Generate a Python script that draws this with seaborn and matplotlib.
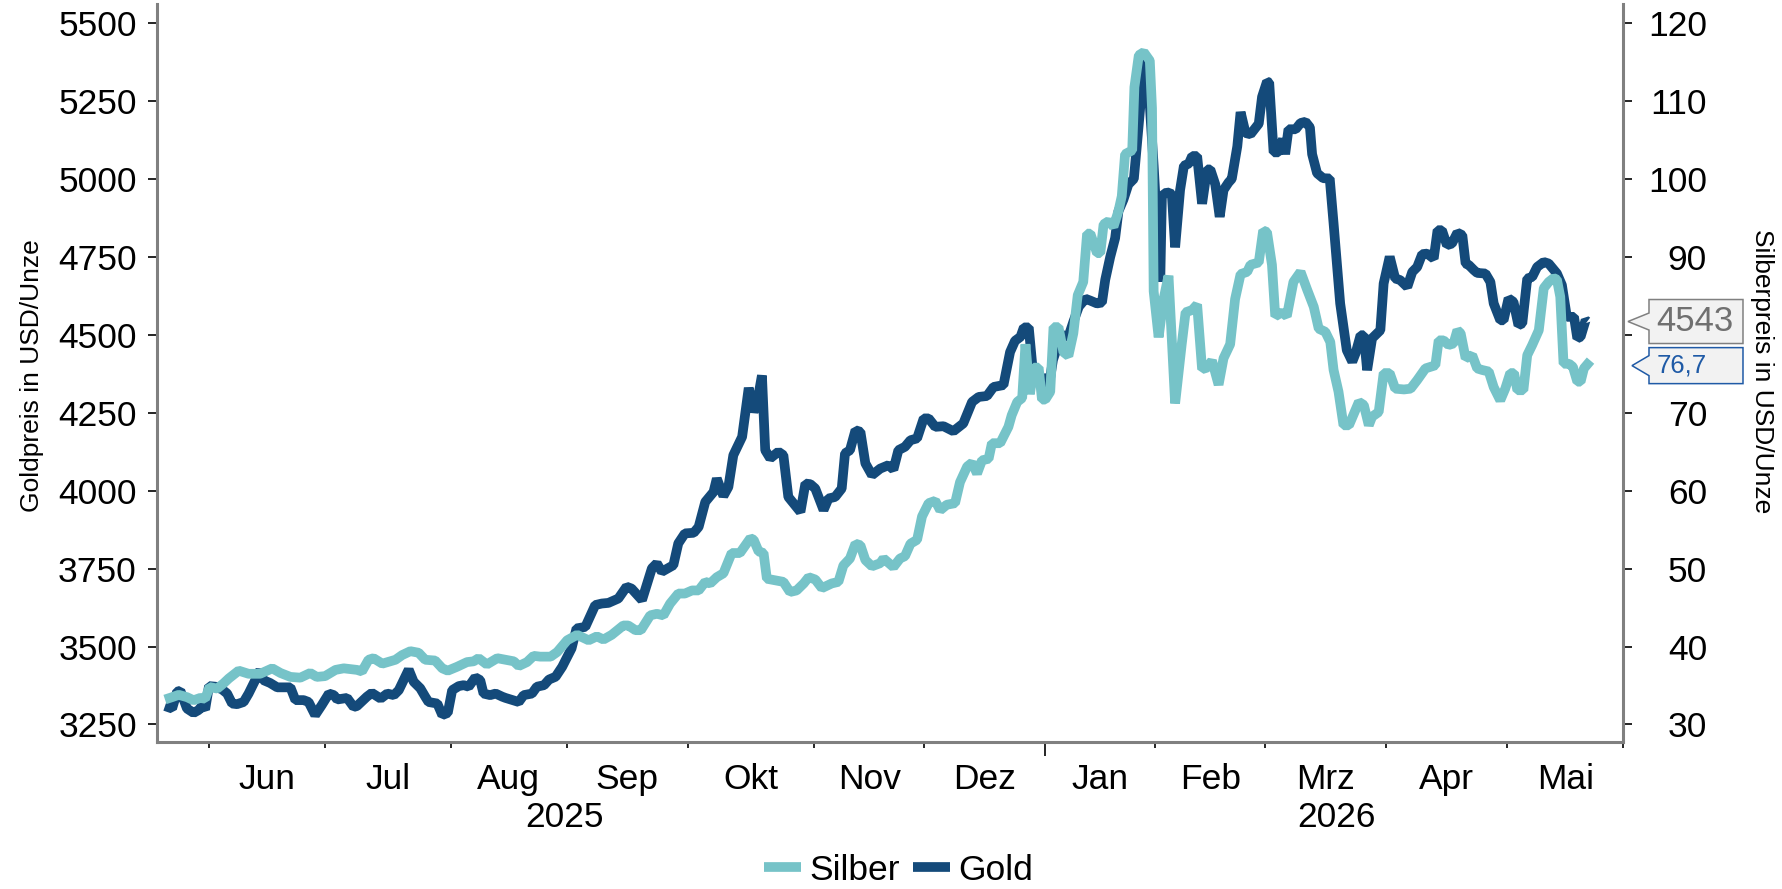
# Gold- und Silberpreis, Handelstage Mai 2025 - Mai 2026
import numpy as np
import pandas as pd
import matplotlib
matplotlib.use("Agg")
import matplotlib.pyplot as plt
import seaborn as sns
from matplotlib.path import Path
from matplotlib.transforms import blended_transform_factory, offset_copy

# ---- DATEN (x = Handelstag seit 20.05.2025) ----
gold_day = [0, 1.3, 2.2, 2.8, 4.0, 5.2, 6.1, 6.7, 7.3, 8.0, 9.2, 10.4, 11.3, 12.2, 13.1, 14.3,
            15.2, 16.7, 17.3, 17.9, 19.1, 20.4, 22.8, 23.7, 25.2, 26.1, 27.3, 28.5, 29.8, 30.7,
            31.3, 33.1, 34.3, 34.9, 36.7, 37.6, 39.2, 40.4, 41.6, 42.5, 44.3, 45.2, 46.4, 47.3,
            47.9, 49.5, 50.4, 51.4, 52.2, 53.4, 54.3, 55.2, 56.4, 57.3, 57.9, 59.1, 60.1, 61.3,
            61.9, 64.3, 65.2, 66.7, 67.6, 68.9, 69.8, 71.0, 72.2, 73.9, 74.8, 76.4, 78.2, 79.4,
            80.6, 82.4, 83.9, 84.8, 86.7, 88.5, 89.4, 90.3, 92.4, 93.3, 94.5, 96.1, 97.0, 98.2,
            99.7, 100.3, 101.5, 102.4, 103.3, 104.9, 106.1, 107.0, 107.6, 108.5, 109.1, 110.0,
            111.5, 112.4, 113.3, 115.5, 116.4, 117.3, 118.2, 119.7, 120.6, 121.8, 123.0, 123.6,
            124.5, 125.5, 126.4, 127.3, 128.5, 130.0, 131.5, 132.4, 133.3, 134.5, 135.5, 136.7,
            137.9, 138.8, 140.0, 141.5, 143.3, 145.1, 146.7, 147.9, 149.4, 150.6, 152.4, 153.6,
            154.5, 155.5, 156.1, 157.0, 157.6, 158.8, 159.6, 160.6, 161.4, 162.1, 163.0, 164.2,
            165.1, 166.1, 167.3, 168.2, 169.4, 170.3, 170.9, 171.8, 172.7, 173.3, 174.2, 175.1,
            176.1, 177.0, 177.9, 178.5, 179.7, 180.9, 181.2, 182.1, 183.0, 183.6, 184.5, 185.2,
            186.1, 186.7, 187.6, 188.5, 189.4, 190.0, 190.9, 191.7, 192.4, 193.3, 193.9, 194.9,
            195.5, 196.4, 197.3, 198.8, 199.4, 200.3, 200.7, 201.5, 202.4, 203.2, 203.6, 204.2,
            205.5, 206.4, 207.3, 208.1, 208.5, 209.4, 210.5, 211.7, 212.4, 213.6, 214.8, 215.8,
            216.4, 217.3, 217.9, 218.5, 219.4, 220.9, 221.5, 222.6, 223.6, 224.5, 225.8, 226.7,
            227.6, 228.5, 229.4, 230.6, 231.3, 232.1, 233.0, 233.9, 234.9, 235.8, 236.4, 237.0,
            237.9, 238.5, 240.0, 240.9, 241.5, 242.7, 243.3, 244.2, 245.1, 246.0, 246.7, 247.6,
            248.5, 249.4, 250.6, 251.5, 253.0, 253.9, 254.8, 256.1, 256.7, 257.3, 258.2, 258.5]
gold_usd = [3309, 3301, 3355, 3358, 3301, 3287, 3296, 3309, 3298, 3373, 3371, 3362, 3349, 3317,
            3315, 3322, 3349, 3403, 3424, 3392, 3383, 3369, 3369, 3328, 3328, 3322, 3280, 3312,
            3349, 3344, 3330, 3335, 3306, 3309, 3339, 3351, 3333, 3349, 3344, 3360, 3426, 3387,
            3366, 3339, 3322, 3317, 3280, 3287, 3360, 3373, 3376, 3371, 3401, 3392, 3349, 3344,
            3349, 3339, 3335, 3322, 3344, 3349, 3371, 3376, 3394, 3403, 3435, 3494, 3558, 3563,
            3633, 3638, 3640, 3654, 3692, 3686, 3649, 3751, 3767, 3740, 3761, 3831, 3863, 3865,
            3884, 3964, 3996, 4039, 3983, 4012, 4114, 4173, 4330, 4253, 4280, 4370, 4130, 4104,
            4125, 4114, 3980, 3932, 4023, 4021, 4007, 3938, 3975, 3980, 4007, 4120, 4130, 4194,
            4189, 4088, 4050, 4071, 4082, 4068, 4130, 4141, 4162, 4168, 4232, 4232, 4205, 4207,
            4191, 4216, 4285, 4301, 4304, 4333, 4339, 4445, 4481, 4494, 4524, 4524, 4410, 4340,
            4370, 4330, 4420, 4457, 4500, 4494, 4542, 4591, 4616, 4610, 4601, 4604, 4677, 4750,
            4811, 4897, 4934, 4983, 5001, 5178, 5362, 5374, 5043, 4671, 4946, 4958, 4952, 4781,
            4965, 5043, 5050, 5074, 5074, 4921, 5031, 5031, 4983, 4879, 4965, 4989, 5001, 5105,
            5215, 5148, 5144, 5178, 5264, 5313, 5310, 5086, 5086, 5129, 5080, 5160, 5160, 5180,
            5184, 5166, 5080, 5019, 5003, 5002, 4858, 4601, 4451, 4414, 4441, 4499, 4499, 4387,
            4489, 4515, 4665, 4751, 4681, 4676, 4654, 4702, 4718, 4759, 4761, 4745, 4836, 4836,
            4788, 4793, 4828, 4820, 4729, 4724, 4708, 4699, 4697, 4670, 4601, 4547, 4547, 4617,
            4606, 4531, 4537, 4681, 4686, 4718, 4734, 4729, 4697, 4660, 4558, 4558, 4489, 4494,
            4547, 4543]

silver_day = [0, 1.3, 2.5, 4.0, 5.2, 6.4, 7.3, 8.1, 9.5, 10.7, 11.6, 13.4, 15.2, 17.3, 19.5, 21.0,
              22.8, 24.6, 26.4, 27.6, 29.1, 31.0, 32.5, 34.9, 35.8, 37.0, 37.9, 39.5, 41.9, 43.1,
              44.6, 46.1, 47.3, 49.1, 50.4, 51.4, 53.1, 54.9, 56.1, 57.0, 58.5, 60.4, 61.9, 63.4,
              64.3, 65.8, 67.0, 68.2, 70.1, 71.3, 73.1, 74.9, 77.0, 78.5, 79.7, 81.2, 83.3, 84.2,
              85.5, 86.5, 88.2, 89.4, 90.6, 91.8, 93.3, 94.5, 95.8, 97.0, 98.2, 99.1, 100.3, 101.5,
              103.0, 104.5, 106.4, 107.0, 107.9, 108.8, 109.4, 110.9, 112.4, 113.6, 114.8, 116.1,
              117.0, 118.2, 119.4, 121.2, 122.4, 123.3, 124.5, 125.5, 126.4, 127.3, 128.5, 130.0,
              130.6, 132.4, 133.6, 134.5, 135.5, 136.7, 137.6, 138.8, 140.0, 140.9, 142.1, 143.6,
              144.5, 145.8, 146.7, 147.6, 148.5, 149.7, 150.3, 151.8, 153.3, 153.9, 154.9, 155.8,
              156.4, 157.2, 157.9, 158.8, 159.4, 160.0, 160.9, 161.5, 162.4, 163.3, 164.2, 165.1,
              165.9, 166.9, 167.6, 168.2, 169.4, 170.0, 170.6, 171.5, 172.4, 173.3, 173.9, 174.5,
              175.8, 176.2, 177.0, 177.9, 179.0, 179.4, 179.7, 180.6, 181.5, 182.4, 183.6, 184.8,
              185.5, 186.7, 187.6, 188.5, 189.4, 190.3, 191.5, 192.4, 193.6, 194.5, 195.5, 196.7,
              197.3, 198.8, 199.6, 200.3, 201.2, 201.8, 203.0, 203.9, 205.1, 206.4, 207.6, 208.8,
              209.7, 210.9, 211.8, 212.4, 213.3, 214.2, 215.2, 216.1, 217.0, 217.9, 218.8, 219.4,
              220.6, 221.5, 222.6, 223.6, 225.2, 226.4, 227.6, 229.1, 230.0, 230.9, 231.5, 232.4,
              233.3, 234.2, 234.9, 235.5, 236.4, 237.6, 238.5, 239.4, 240.6, 241.5, 242.7, 243.6,
              244.5, 245.2, 245.8, 246.9, 247.6, 248.5, 249.7, 250.6, 251.5, 252.4, 253.0, 253.6,
              254.2, 255.2, 255.9, 256.7, 257.3, 257.9, 259.1]
silver_usd = [33.2, 33.5, 33.8, 33.5, 33.1, 33.4, 33.3, 34.8, 34.6, 35.3, 35.9, 36.9, 36.5, 36.5,
              37.2, 36.6, 36.1, 36.0, 36.6, 36.1, 36.2, 37.0, 37.2, 37.0, 36.8, 38.3, 38.5, 37.8,
              38.3, 38.9, 39.4, 39.2, 38.3, 38.2, 37.2, 36.9, 37.4, 38.0, 38.1, 38.5, 37.7, 38.5,
              38.3, 38.1, 37.5, 38.0, 38.8, 38.7, 38.7, 39.3, 40.8, 41.5, 40.8, 41.3, 40.9, 41.5,
              42.7, 42.7, 42.1, 42.1, 44.0, 44.2, 44.0, 45.5, 46.8, 46.8, 47.2, 47.2, 48.3, 48.1,
              48.9, 49.4, 52.0, 52.0, 53.9, 53.7, 52.2, 52.0, 48.7, 48.5, 48.3, 47.0, 47.2, 48.1,
              48.9, 48.6, 47.5, 48.1, 48.3, 50.4, 51.3, 53.2, 53.0, 51.1, 50.3, 50.7, 51.3, 50.2,
              51.3, 51.6, 53.2, 53.7, 56.7, 58.4, 58.7, 57.5, 58.2, 58.4, 61.1, 63.1, 63.6, 62.2,
              63.9, 64.1, 66.1, 66.1, 68.2, 69.7, 71.4, 71.9, 78.8, 72.4, 75.8, 75.8, 71.7, 71.7,
              72.7, 81.0, 81.0, 77.8, 77.3, 80.2, 85.1, 86.8, 93.0, 93.0, 90.5, 90.5, 94.2, 94.6,
              93.9, 95.9, 97.8, 103.2, 103.7, 111.8, 115.9, 116.3, 115.2, 109.1, 85.6, 79.7, 84.6,
              87.6, 71.2, 78.8, 82.9, 83.2, 83.9, 75.6, 75.8, 76.7, 73.6, 77.0, 78.8, 84.6, 87.8,
              88.1, 89.0, 89.3, 93.4, 93.2, 89.0, 82.4, 82.9, 82.4, 86.8, 88.1, 85.8, 83.6, 80.8,
              80.4, 79.1, 75.5, 72.7, 68.4, 68.4, 69.9, 71.4, 71.0, 68.4, 69.5, 70.1, 75.1, 75.1,
              73.1, 73.0, 73.1, 74.2, 75.7, 75.9, 76.1, 79.3, 79.3, 78.7, 78.9, 80.6, 80.2, 77.0,
              77.4, 75.7, 75.5, 75.3, 73.3, 71.6, 73.1, 75.1, 75.1, 72.9, 72.9, 77.4, 78.7, 80.6,
              86.0, 86.8, 87.3, 87.1, 84.9, 76.3, 76.3, 75.9, 74.0, 74.0, 75.7, 76.7]

# Monatsanfaenge als Handelstag-Index (letzter Wert = Achsenende)
month_start_day = [8, 29, 52, 73, 95, 118, 138, 160, 180, 200, 222, 244, 265]
month_names = ["Jun", "Jul", "Aug", "Sep", "Okt", "Nov", "Dez", "Jan", "Feb", "Mrz", "Apr", "Mai"]
year_names = ["2025", "2026"]
year_label_day = [72.7, 213.0]
gold_ticks = [3250, 3500, 3750, 4000, 4250, 4500, 4750, 5000, 5250, 5500]
silver_ticks = [30, 40, 50, 60, 70, 80, 90, 100, 110, 120]

GOLD = "#144a7a"
SILVER = "#76c3c8"
SPINE = "#808080"
FS = 25.5

gold_df = pd.DataFrame({"tag": gold_day, "preis": gold_usd})
silver_df = pd.DataFrame({"tag": silver_day, "preis": silver_usd})

# ---- PLOT ----
sns.set_style("white")
plt.rcParams["font.family"] = ["Liberation Sans", "DejaVu Sans"]
plt.rcParams["text.color"] = "black"
plt.rcParams["xtick.color"] = "black"
plt.rcParams["ytick.color"] = "black"

fig = plt.figure(figsize=(17.83, 8.89), dpi=100)
ax = fig.add_axes([0.08805, 0.1648, 0.8222, 0.8307])
ax2 = ax.twinx()

line_kw = dict(linewidth=7, solid_joinstyle="bevel", solid_capstyle="butt")
sns.lineplot(data=gold_df, x="tag", y="preis", ax=ax, color=GOLD, label="Gold", legend=False, **line_kw)
sns.lineplot(data=silver_df, x="tag", y="preis", ax=ax2, color=SILVER, label="Silber", legend=False, **line_kw)

# Achsen: Silber = 30 + (Gold - 3250) / 25
ax.set_xlim(-1.45, month_start_day[-1])
ax.set_ylim(3192, 5562)
lo, hi = ax.get_ylim()
ax2.set_ylim(30 + (lo - 3250) / 25, 30 + (hi - 3250) / 25)

ax.set_xlabel("")
ax.set_ylabel("")
ax2.set_ylabel("")

for s in ["top", "right"]:
    ax.spines[s].set_visible(False)
for s in ["top", "left", "bottom"]:
    ax2.spines[s].set_visible(False)
for sp in [ax.spines["left"], ax.spines["bottom"], ax2.spines["right"]]:
    sp.set_color(SPINE)
    sp.set_linewidth(2.2)

# Beschriftung hinter den Callout-Kaesten bleibt leer (wie im Original verdeckt)
gold_as_silver = 30 + (gold_usd[-1] - 3250) / 25
silver_labels = ["" if silver_usd[-1] - 2 < v < gold_as_silver + 2 else str(v) for v in silver_ticks]

ax.set_yticks(gold_ticks)
ax.set_yticklabels([str(v) for v in gold_ticks])
ax2.set_yticks(silver_ticks)
ax2.set_yticklabels(silver_labels)
ax.tick_params(axis="y", left=True, direction="out", length=6.5, width=1.2, color="black",
               labelsize=FS, labelcolor="black", pad=8)
ax2.tick_params(axis="y", right=True, direction="out", length=6.5, width=1.2, color="black",
                labelsize=FS, labelcolor="black", pad=54)
for lab in ax2.get_yticklabels():
    lab.set_horizontalalignment("right")

# x: Striche an Monatsanfaengen, Namen in der Monatsmitte
mids = [(a + b) / 2 for a, b in zip(month_start_day[:-1], month_start_day[1:])]
ax.set_xticks(month_start_day)
ax.set_xticklabels([""] * len(month_start_day))
ax.set_xticks(mids, minor=True)
ax.set_xticklabels(month_names, minor=True)
ax.tick_params(axis="x", which="major", bottom=True, direction="out", length=4.5, width=1.2,
               color="black")
ax.tick_params(axis="x", which="minor", bottom=True, length=0, labelsize=FS, labelcolor="black",
               pad=14.5)
# laengerer Strich am Jahreswechsel
ax.xaxis.get_major_ticks()[month_names.index("Jan")].tick1line.set_markersize(10)

xform = blended_transform_factory(ax.transData, ax.transAxes)
for name, d in zip(year_names, year_label_day):
    ax.text(d, -0.1016, name, transform=xform, ha="center", va="center", fontsize=FS)

fig.text(0.018, 0.578, "Goldpreis in USD/Unze", rotation=90, ha="center", va="center",
         fontsize=19, family=["Liberation Sans Narrow", "Liberation Sans", "DejaVu Sans"])
fig.text(0.988, 0.582, "Silberpreis in USD/Unze", rotation=270, ha="center", va="center",
         fontsize=19, family=["Liberation Sans Narrow", "Liberation Sans", "DejaVu Sans"])


# Callout-Kaesten mit Spitze nach links (letzter Wert); Groessen in Pixeln
def callout(w, h, tip, half, lpad=7.7):
    def style(x0, y0, width, height, mutation_size):
        left = x0 - lpad
        right = left + w
        mid = y0 + height / 2
        bot = mid - h / 2
        top = mid + h / 2
        verts = [(left, bot), (right, bot), (right, top), (left, top), (left, mid + half),
                 (left - tip, mid), (left, mid - half), (left, bot)]
        codes = [Path.MOVETO] + [Path.LINETO] * 6 + [Path.CLOSEPOLY]
        return Path(verts, codes)
    return style


# beide Kaesten auf ax2, damit sie ueber den rechten Achsenbeschriftungen liegen
gold_tr = blended_transform_factory(ax2.transAxes, ax.transData)
silver_tr = offset_copy(blended_transform_factory(ax2.transAxes, ax2.transData), fig=fig,
                        y=-5, units="dots")
ax2.text(1.0230, gold_usd[-1], f"{gold_usd[-1]:.0f}", transform=gold_tr,
         ha="left", va="center", fontsize=25, color="#707070", zorder=10,
         bbox=dict(boxstyle=callout(94, 44, 21, 8.5), fc="#f2f2f2", ec="#808080", lw=1.1))
ax2.text(1.0230, silver_usd[-1], f"{silver_usd[-1]:.1f}".replace(".", ","), transform=silver_tr,
         ha="left", va="center", fontsize=18.5, color="#1f5aa6", zorder=10,
         bbox=dict(boxstyle=callout(94, 36, 17, 10), fc="#f2f2f2", ec="#1f5aa6", lw=1.1))

# Legende unten
h1, l1 = ax.get_legend_handles_labels()
h2, l2 = ax2.get_legend_handles_labels()
fig.legend(h2 + h1, l2 + l1, loc="center", bbox_to_anchor=(0.504, 0.021), ncol=2, frameon=False,
           fontsize=FS, handlelength=1.05, handletextpad=0.25, columnspacing=0.35)

fig.savefig("out.png", dpi=100)
